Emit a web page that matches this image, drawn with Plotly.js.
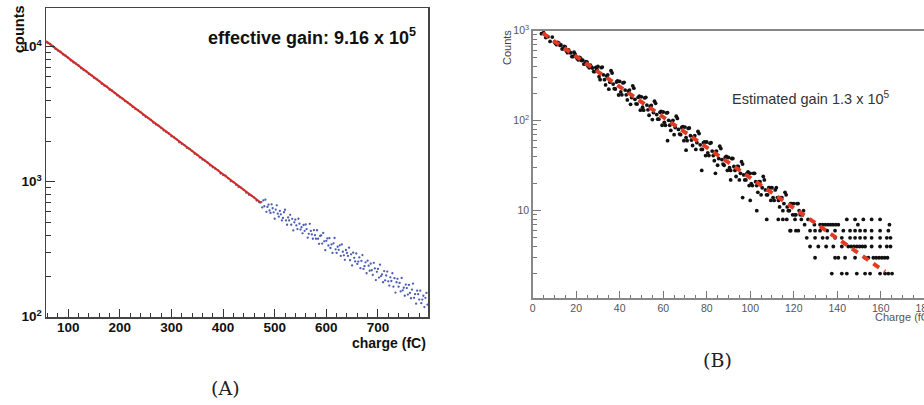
<!DOCTYPE html>
<html>
<head>
<meta charset="utf-8">
<script src="https://cdn.plot.ly/plotly-3.0.1.min.js"></script>
<style>
html,body{margin:0;padding:0;overflow:hidden;background:#fff;width:924px;height:405px;}
#chart{width:960px;height:405px;}
</style>
</head>
<body>
<div id="chart"></div>
<script>
// ---------- Panel A data ----------
const aFitX = [57, 474];
const aFitY = [11000, 695];
const aHeadX = [60,65,70,75,80,85,90,95,100,105,110,115,120,125,130,135,140,145,150,155,160,165,170,175,180,185,190,195,200,205,210,215,220,225,230,235,240,245,250,255,260,265,270,275,280,285,290,295,300,305,310,315,320,325,330,335,340,345,350,355,360,365,370,375,380,385,390,395,400,405,410,415,420,425,430,435,440,445,450,455,460,465,470];
const aHeadY = [10650,10480,10120,9650,9350,9190,8750,8580,8300,7920,7650,7480,7260,6930,6710,6580,6280,6150,5880,5750,5570,5310,5150,5060,4810,4720,4560,4360,4220,4130,3950,3870,3740,3580,3460,3390,3280,3130,3020,2960,2870,2740,2650,2600,2510,2400,2330,2280,2170,2130,2060,1960,1910,1870,1780,1750,1690,1610,1580,1510,1460,1430,1390,1320,1280,1250,1220,1150,1120,1110,1060,1010,995,950,915,905,870,830,800,790,765,725,705];
const aTailX = [474,476,478,480,482,484,486,488,490,492,494,496,498,500,502,504,506,508,510,512,514,516,518,520,522,524,526,528,530,532,534,536,538,540,542,544,546,548,550,552,554,556,558,560,562,564,566,568,570,572,574,576,578,580,582,584,586,588,590,592,594,596,598,600,602,604,606,608,610,612,614,616,618,620,622,624,626,628,630,632,634,636,638,640,642,644,646,648,650,652,654,656,658,660,662,664,666,668,670,672,674,676,678,680,682,684,686,688,690,692,694,696,698,700,702,704,706,708,710,712,714,716,718,720,722,724,726,728,730,732,734,736,738,740,742,744,746,748,750,752,754,756,758,760,762,764,766,768,770,772,774,776,778,780,782,784,786,788,790,792,794,796];
const aTailY = [707,645,727,658,737,599,651,676,612,587,
  680,636,593,532,622,669,580,551,608,574,
  517,539,594,620,517,480,544,517,569,480,
  531,436,500,524,475,446,532,489,442,460,
  415,478,433,482,446,385,411,488,432,407,
  378,438,402,378,437,378,347,397,401,348,
  418,362,311,365,380,337,382,323,343,297,
  350,383,316,297,330,313,338,282,343,303,
  285,264,312,297,282,325,262,290,240,298,
  273,257,294,246,256,275,229,259,286,226,
  237,253,210,260,239,219,247,221,204,251,
  228,187,215,226,195,243,200,206,180,218,
  186,202,216,183,170,196,184,210,167,193,
  151,180,191,167,178,154,194,157,164,143,
  173,163,146,172,150,137,159,176,138,147,
  125,156,147,134,156,126,134,143,118,138,
  150,123];
const aXTicks = [100,200,300,400,500,600,700];
const aYTicks = [100,1000,10000];
const aYText = ['10<sup>2</sup>','10<sup>3</sup>','10<sup>4</sup>'];

// ---------- Panel B data ----------
const bFitX = [4.6, 162];
const bFitY = [940, 2.1];
const bMainX = [4,5,6,7,8,9,10,11,12,13,14,15,16,17,18,19,20,21,22,23,24,25,26,27,28,29,30,31,32,33,34,35,36,37,38,39,40,41,42,43,44,45,46,47,48,49,50,51,52,53,54,55,56,57,58,59,60,61,62,63,64,65,66,67,68,69,70,71,72,73,74,75,76,77,78,79,80,81,82,83,84,85,86,87,88,89,90,91,92,93,94,95,96,97,98,99,100,101,102,103,104,105,106,107,108,109,110,111,112,113,114,115,116,117,118,119,120,121,122,123,124,125];
const bMainY = [926,950,840,858,761,850,749,699,728,694,629,661,570,583,516,577,509,474,495,471,427,448,387,396,351,392,401,286,394,286,314,224,359,255,225,276,273,194,267,194,213,152,244,173,153,187,184,131,182,132,144,103,165,117,104,127,125,89,123,89,98,70,112,80,70,86,85,60,83,61,66,48,76,54,48,58,58,41,57,41,45,32,52,37,32,40,39,28,38,28,31,22,35,25,22,27,26,19,26,19,21,15,24,17,15,18,18,13,18,13,14,10,16,11,10,12,12,9,12,9,9,7];
const bHalfX = [10.5,11.5,12.5,13.5,14.5,15.5,16.5,17.5,18.5,19.5,20.5,21.5,22.5,23.5,24.5,25.5,26.5,27.5,28.5,29.5,30.5,31.5,32.5,33.5,34.5,35.5,36.5,37.5,38.5,39.5,40.5,41.5,42.5,43.5,44.5,45.5,46.5,47.5,48.5,49.5,50.5,51.5,52.5,53.5,54.5,55.5,56.5,57.5,58.5,59.5,60.5,61.5,62.5,63.5,64.5,65.5,66.5,67.5,68.5,69.5,70.5,71.5,72.5,73.5,74.5,75.5,76.5,77.5,78.5,79.5,80.5,81.5,82.5,83.5,84.5,85.5,86.5,87.5,88.5,89.5,90.5,91.5,92.5,93.5,94.5,95.5,96.5,97.5,98.5,99.5,100.5,101.5,102.5,103.5,104.5,105.5,106.5,107.5,108.5,109.5,110.5,111.5,112.5,113.5,114.5,115.5,116.5,117.5,118.5,119.5,120.5,121.5,122.5,123.5,124.5];
const bHalfY = [720,743,687,628,668,594,612,566,517,550,489,504,466,426,453,403,415,384,351,374,308,388,323,250,322,268,339,227,269,193,209,263,219,170,219,181,230,154,182,131,141,179,149,115,148,123,156,104,124,89,96,122,101,78,101,84,106,71,84,60,65,82,68,53,68,57,72,48,57,41,44,56,46,36,46,38,49,33,39,28,30,38,31,24,31,26,33,22,26,19,20,26,21,16,21,18,22,15,18,13,14,17,14,11,14,12,15,10,12,9,9,12,10,8,10];
const bOutX = [77.7,96.5,103,84,118.6,121,62,115,100,70.5,91];
const bOutY = [28,14,10,26,6,6,60,8,13,47,22];
// quantized low-count rows (x positions of bins at each integer count)
const bRow8 = [107.6,112.9,116.8,120.6,126.6,144.4,148.2,152,155.8,159.7];
const bRow7 = [129.5,132.1,133.3,134.5,135.7,136.9,138.1,139.3,140.5,149.5,164];
const bRow6 = [118.3,122.1,127.5,129.8,132.1,135.4,139,142.8,145.9,148.2,150.5,152.8,155.8,159.7,163.5];
const bRow5 = [126,129.8,133.3,135.4,139,142.1,145.9,148.2,150.5,152.8,155.8,159.7,162.8,164.5];
const bRow4 = [127.5,131.3,134.9,138.2,142.1,145.1,146.4,147.7,149,150.3,151.6,152.8,155.8,159.7,162.8,164.5];
const bRow3 = [129.8,139,140.5,143.6,148.2,152.8,154.3,156.6,157.9,159.2,160.5,161.8,163.1];
const bRow2 = [137.5,142.1,144.4,149,152.8,155.1,159.7,162,163.5,165.2];
const bXTicks = [0,20,40,60,80,100,120,140,160,180];
const bYTicks = [10,100,1000];
const bYText = ['10','10<sup>2</sup>','10<sup>3</sup>'];

const bRowX = [], bRowY = [];
[[bRow8,8],[bRow7,7],[bRow6,6],[bRow5,5],[bRow4,4],[bRow3,3],[bRow2,2]].forEach(([xs,v])=>{
  xs.forEach(x=>{bRowX.push(x); bRowY.push(v);});
});

const W = 960, H = 405;
const px = x => x / W;
const py = y => 1 - y / H;

const SANS = 'Liberation Sans, Arial, sans-serif';
const fontA = {family:SANS, size:13.5, color:'#111', weight:'bold'};
const fontB = {family:SANS, size:10.5, color:'#555'};

const blue = {type:'scatter', mode:'markers', xaxis:'x', yaxis:'y', marker:{size:2.3, color:'#4a5cb5'}, hoverinfo:'skip'};
const blk = {type:'scatter', mode:'markers', xaxis:'x2', yaxis:'y2', marker:{size:3.8, color:'#111'}, hoverinfo:'skip'};
const traces = [
  Object.assign({}, blue, {x:aHeadX, y:aHeadY}),
  Object.assign({}, blue, {x:aTailX, y:aTailY}),
  {type:'scatter', mode:'lines', x:aFitX, y:aFitY, xaxis:'x', yaxis:'y', line:{color:'#d42a24', width:2}, hoverinfo:'skip'},
  Object.assign({}, blk, {x:bMainX, y:bMainY}),
  Object.assign({}, blk, {x:bHalfX, y:bHalfY}),
  Object.assign({}, blk, {x:bOutX, y:bOutY}),
  Object.assign({}, blk, {x:bRowX, y:bRowY}),
  {type:'scatter', mode:'lines', x:bFitX, y:bFitY, xaxis:'x2', yaxis:'y2', line:{color:'#e23b25', width:4, dash:'7px,6px'}, hoverinfo:'skip'}
];

function ann(x, y, text, font, extra){
  return Object.assign({xref:'paper', yref:'paper', x:px(x), y:py(y), text:text, showarrow:false,
    xanchor:'center', yanchor:'middle', font:font}, extra || {});
}

const layout = {
  width: W, height: H,
  margin:{l:0, r:0, t:0, b:0},
  paper_bgcolor:'#fff', plot_bgcolor:'#fff',
  showlegend:false,
  xaxis:{domain:[px(46), px(428)], range:[57,797], anchor:'y',
    showline:true, mirror:true, linecolor:'#444', linewidth:1.5, showgrid:false, zeroline:false,
    tickmode:'array', tickvals:aXTicks, ticks:'inside', ticklen:8, tickcolor:'#333', tickwidth:1,
    ticklabelstandoff:-3,
    minor:{dtick:20, tick0:0, ticks:'inside', ticklen:4, tickcolor:'#333'},
    tickfont:fontA},
  yaxis:{domain:[py(317), py(8)], type:'log', range:[1.998, 4.287], anchor:'x',
    showline:true, mirror:true, linecolor:'#444', linewidth:1.5, showgrid:false, zeroline:false,
    tickmode:'array', tickvals:aYTicks, ticktext:aYText, ticks:'inside', ticklen:9, tickcolor:'#333',
    minor:{dtick:'D1', ticks:'inside', ticklen:5, tickcolor:'#333'},
    tickfont:fontA},
  xaxis2:{domain:[px(532.7), px(946)], range:[0,190], anchor:'y2',
    showline:true, mirror:true, linecolor:'#888', linewidth:1.5, showgrid:false, zeroline:false,
    tickmode:'array', tickvals:bXTicks, ticks:'inside', ticklen:7, tickcolor:'#777',
    minor:{dtick:5, tick0:0, ticks:'inside', ticklen:3.5, tickcolor:'#777'},
    tickfont:fontB},
  yaxis2:{domain:[py(298), py(30.7)], type:'log', range:[0.03, 3], anchor:'x2',
    showline:true, mirror:true, linecolor:'#888', linewidth:1.5, showgrid:false, zeroline:false,
    tickmode:'array', tickvals:bYTicks, ticktext:bYText, ticks:'inside', ticklen:8, tickcolor:'#777',
    minor:{dtick:'D1', ticks:'inside', ticklen:4, tickcolor:'#777'},
    tickfont:fontB},
  annotations:[
    ann(312, 37, 'effective gain: 9.16 x 10<sup>5</sup>', {family:SANS, size:18, color:'#111', weight:'bold'}),
    ann(19, 29, 'counts', {family:SANS, size:14.5, color:'#111', weight:'bold'}, {textangle:-90}),
    ann(428, 343, 'charge (fC)', {family:SANS, size:14, color:'#111', weight:'bold'}, {xanchor:'right'}),
    ann(225, 388, '(A)', {family:'DejaVu Serif, Liberation Serif, serif', size:19, color:'#222'}),
    ann(811, 98, 'Estimated gain 1.3 x 10<sup>5</sup>', {family:SANS, size:14.5, color:'#333'}),
    ann(507, 47, 'Counts', {family:SANS, size:11, color:'#444'}, {textangle:-90}),
    ann(873, 317, 'Charge (fC)', {family:SANS, size:11, color:'#555'}, {xanchor:'left'}),
    ann(717, 360, '(B)', {family:'DejaVu Serif, Liberation Serif, serif', size:19, color:'#222'})
  ]
};

Plotly.newPlot('chart', traces, layout, {displayModeBar:false, staticPlot:true});
</script>
</body>
</html>
